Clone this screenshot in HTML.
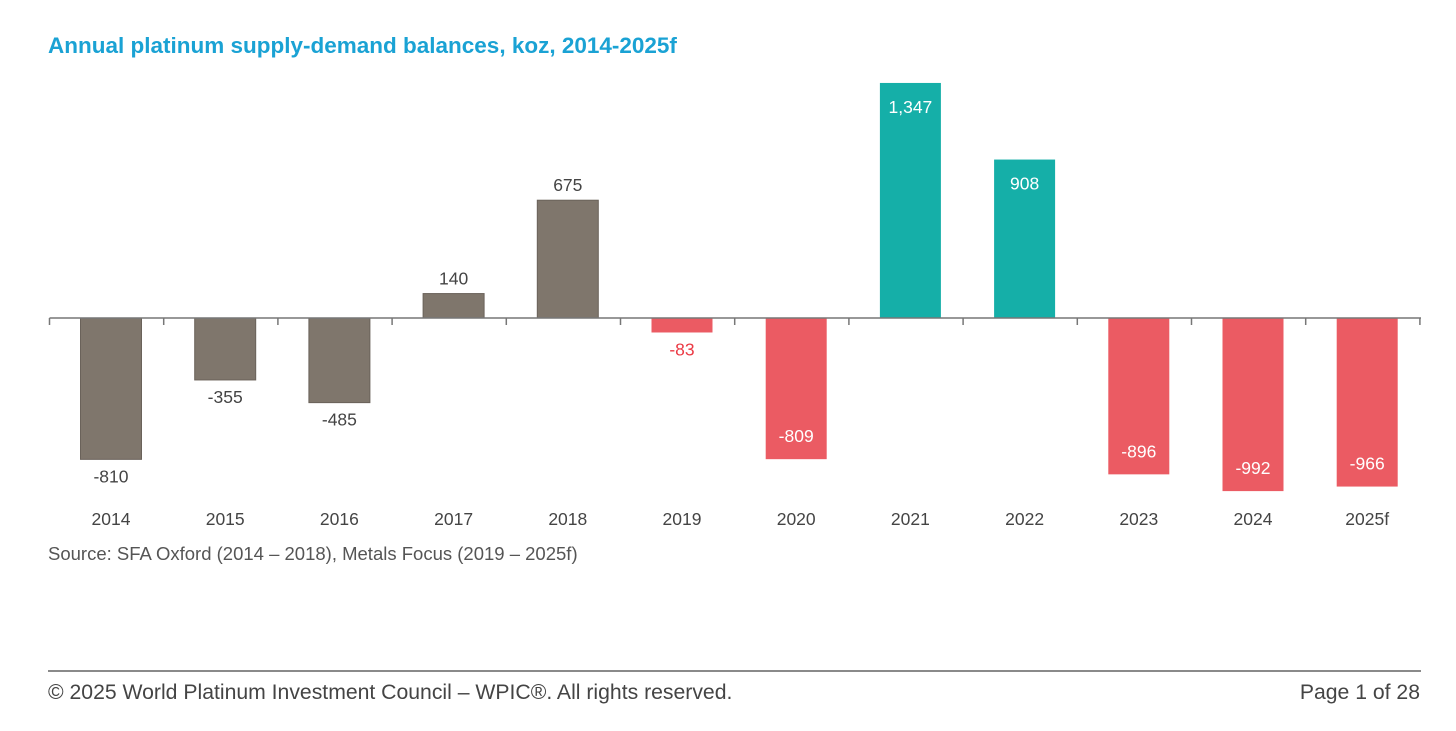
<!DOCTYPE html>
<html><head><meta charset="utf-8"><style>
body{margin:0;background:#fff;width:1456px;height:731px;overflow:hidden;font-family:"Liberation Sans",Arial,sans-serif;}
svg{position:absolute;left:0;top:0}
</style></head><body>
<svg width="1456" height="731">
<text x="48" y="53" font-size="22.5" font-weight="bold" fill="#1aa2d4">Annual platinum supply-demand balances, koz, 2014-2025f</text>
<g id="plot"></g>
<text x="48" y="560" font-size="18.5" fill="#555">Source: SFA Oxford (2014 – 2018), Metals Focus (2019 – 2025f)</text>
<line x1="48" y1="671" x2="1421" y2="671" stroke="#8a8a8a" stroke-width="2"/>
<text x="48" y="699" font-size="21.2" fill="#444">© 2025 World Platinum Investment Council – WPIC®. All rights reserved.</text>
<text x="1420" y="699" font-size="21.2" fill="#444" text-anchor="end">Page 1 of 28</text>
</svg>
<script>
const categories=["2014","2015","2016","2017","2018","2019","2020","2021","2022","2023","2024","2025f"];
const values=[-810,-355,-485,140,675,-83,-809,1347,908,-896,-992,-966];
const labels=["-810","-355","-485","140","675","-83","-809","1,347","908","-896","-992","-966"];
const groups=["g","g","g","g","g","r","r","t","t","r","r","r"];
const NS="http://www.w3.org/2000/svg";
const g=document.getElementById("plot");
const x0=49.5,step=114.2,zeroY=318,k=0.1745;
const xs=i=>x0+step*i;
const ys=v=>zeroY-v*k;
const col={g:"#7f766c",r:"#eb5b63",t:"#15afa8"};
function mk(t,a){const e=document.createElementNS(NS,t);for(const n in a)e.setAttribute(n,a[n]);g.appendChild(e);return e;}
values.forEach((v,i)=>{
  const bx=xs(i)+31,bw=61,y=ys(v);
  const r=mk("rect",{x:bx,y:Math.min(y,zeroY),width:bw,height:Math.abs(zeroY-y),fill:col[groups[i]],stroke:groups[i]=="g"?"#6a625a":"none","stroke-width":1});
  
  
  let ly,fill="#444";
  const inside=Math.abs(v)>700&&groups[i]!="g";
  if(inside){fill="#fff";ly=v>0?y+30:y-17;}
  else if(v>0)ly=y-9;
  else{ly=y+23;if(groups[i]=="r")fill="#eb3a45";}
  const t=mk("text",{x:bx+bw/2,y:ly,"font-size":17.5,"text-anchor":"middle",fill:fill});
  t.textContent=labels[i];
  
  
  const c=mk("text",{x:bx+bw/2,y:525,"font-size":17.5,"text-anchor":"middle",fill:"#444"});
  c.textContent=categories[i];
  
  
});
const ax=mk("line",{x1:x0,y1:zeroY,x2:1421,y2:zeroY,stroke:"#777","stroke-width":1.5});


for(let i=0;i<=categories.length;i++){
  const tk=mk("line",{x1:xs(i),y1:zeroY,x2:xs(i),y2:zeroY+7,stroke:"#777","stroke-width":1.5});
  
  
}
</script>
</body></html>
